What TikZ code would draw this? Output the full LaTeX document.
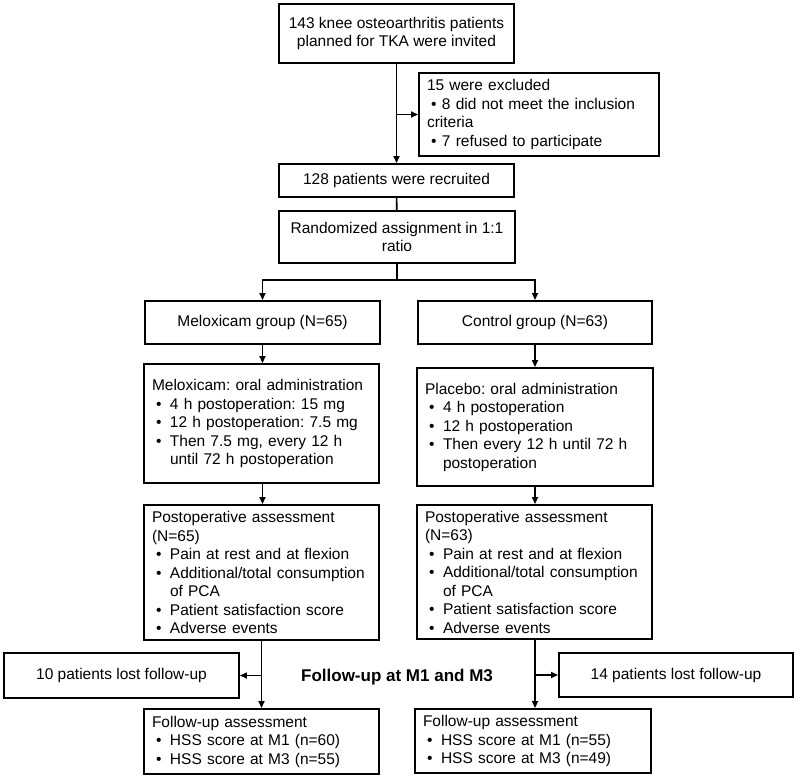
\documentclass[tikz,border=0pt]{standalone}
\usepackage{fontspec}
\setmainfont{Liberation Sans}
\usepackage{tikz}
\usetikzlibrary{arrows.meta, calc}
\frenchspacing
\newcommand{\bul}[1][18pt]{\leavevmode\hbox to #1{\hskip4pt\textbullet\hfil}}
\newcommand{\cont}{\leavevmode\hbox to 18pt{\hfil}}
\tikzstyle{box} = [rectangle, draw=black, line width=1.9pt, inner xsep=8pt,
    inner ysep=0pt, font=\fontsize{15.5}{18.5}\selectfont]
\tikzstyle{cbox} = [box, align=center]
\tikzstyle{lbox} = [box, align=left]
\tikzstyle{arrow} = [line width=1.6pt, -{Triangle[length=7pt,width=6pt]}]
\tikzstyle{link} = [line width=1.6pt]

\begin{document}
\begin{tikzpicture}[x=1pt, y=-1pt]

        \useasboundingbox (0,0) rectangle (800,778);

        % enrolment
        \node (invited) [cbox, minimum width=235pt, minimum height=59pt]
            at (396.5,33.5)
            {143 knee osteoarthritis patients\\planned for TKA were invited};
        \node (excluded) [lbox, text width=224pt, minimum height=83pt]
            at (539,114.5)
            {15 were excluded\\\bul[15pt]8 did not meet the inclusion\\
             criteria\\\bul[15pt]7 refused to participate};
        \node (recruited) [cbox, minimum width=235pt, minimum height=33pt]
            at (396.5,180.5) {128 patients were recruited};
        \node (randomized) [cbox, minimum width=236pt, minimum height=52pt]
            at (397,237) {Randomized assignment in 1:1\\ratio};

        % groups
        \node (meloxgrp) [cbox, minimum width=235pt, minimum height=43pt]
            at (262.5,322.5) {Meloxicam group (N=65)};
        \node (controlgrp) [cbox, minimum width=234pt, minimum height=43pt]
            at (535,322.5) {Control group (N=63)};

        \node (meloxadmin) [lbox, text width=219pt, minimum height=119pt]
            at (261.5,423.5)
            {Meloxicam: oral administration\\
             \bul 4 h postoperation: 15 mg\\
             \bul 12 h postoperation: 7.5 mg\\
             \bul Then 7.5 mg, every 12 h\\
             \cont until 72 h postoperation};
        \node (placeboadmin) [lbox, text width=220pt, minimum height=118pt]
            at (535,427)
            {Placebo: oral administration\\
             \bul 4 h postoperation\\
             \bul 12 h postoperation\\
             \bul Then every 12 h until 72 h\\
             \cont postoperation};

        \node (meloxassess) [lbox, text width=219pt, minimum height=135pt]
            at (261.5,572.5)
            {Postoperative assessment\\(N=65)\\
             \bul Pain at rest and at flexion\\
             \bul Additional/total consumption\\
             \cont of PCA\\
             \bul Patient satisfaction score\\
             \bul Adverse events};
        \node (placeboassess) [lbox, text width=219pt, minimum height=134pt]
            at (534.5,572)
            {Postoperative assessment\\(N=63)\\
             \bul Pain at rest and at flexion\\
             \bul Additional/total consumption\\
             \cont of PCA\\
             \bul Patient satisfaction score\\
             \bul Adverse events};

        % follow-up
        \node (meloxlost) [cbox, minimum width=235pt, minimum height=45pt]
            at (121.5,675.5) {10 patients lost follow-up};
        \node (controllost) [cbox, minimum width=234pt, minimum height=44pt]
            at (676,675) {14 patients lost follow-up};
        \node (followlabel) [font=\fontsize{17}{20}\selectfont\bfseries]
            at (397,677) {Follow-up at M1 and M3};

        \node (meloxfollow) [lbox, text width=219pt, minimum height=65pt]
            at (261.5,741.5)
            {Follow-up assessment\\
             \bul HSS score at M1 (n=60)\\
             \bul HSS score at M3 (n=55)};
        \node (controlfollow) [lbox, text width=220pt, minimum height=64pt]
            at (533,741)
            {Follow-up assessment\\
             \bul HSS score at M1 (n=55)\\
             \bul HSS score at M3 (n=49)};

        % arrows
        \draw [arrow] (invited) -- (recruited) ;
        \coordinate (exsplit) at (invited.south |- excluded.west) ;
        \draw [arrow] (exsplit) -- (excluded) ;

        \draw [link] (recruited) -- (randomized) ;
        \coordinate (split) at ($(randomized.south)+(0,16)$) ;
        \draw [link] (randomized) -- (split) ;
        \draw [arrow] (split) -| (meloxgrp.north) ;
        \draw [arrow] (split) -| (controlgrp.north) ;

        \draw [arrow] (meloxgrp.south) --
            (meloxgrp.south |- meloxadmin.north) ;
        \draw [arrow] (controlgrp.south) --
            (controlgrp.south |- placeboadmin.north) ;

        \draw [arrow] (meloxgrp.south |- meloxadmin.south) --
            (meloxgrp.south |- meloxassess.north) ;
        \draw [arrow] (controlgrp.south |- placeboadmin.south) --
            (controlgrp.south |- placeboassess.north) ;

        \draw [arrow] (meloxassess.south) --
            (meloxassess.south |- meloxfollow.north) ;
        \coordinate (meloxsplit) at (meloxassess.south |- meloxlost.east) ;
        \draw [arrow] (meloxsplit) -- (meloxlost.east) ;

        \draw [arrow] (controlgrp.south |- placeboassess.south) --
            (controlgrp.south |- controlfollow.north) ;
        \coordinate (controlsplit) at (controlgrp.south |- controllost.west) ;
        \draw [arrow] (controlsplit) -- (controllost.west) ;

\end{tikzpicture}
\end{document}
